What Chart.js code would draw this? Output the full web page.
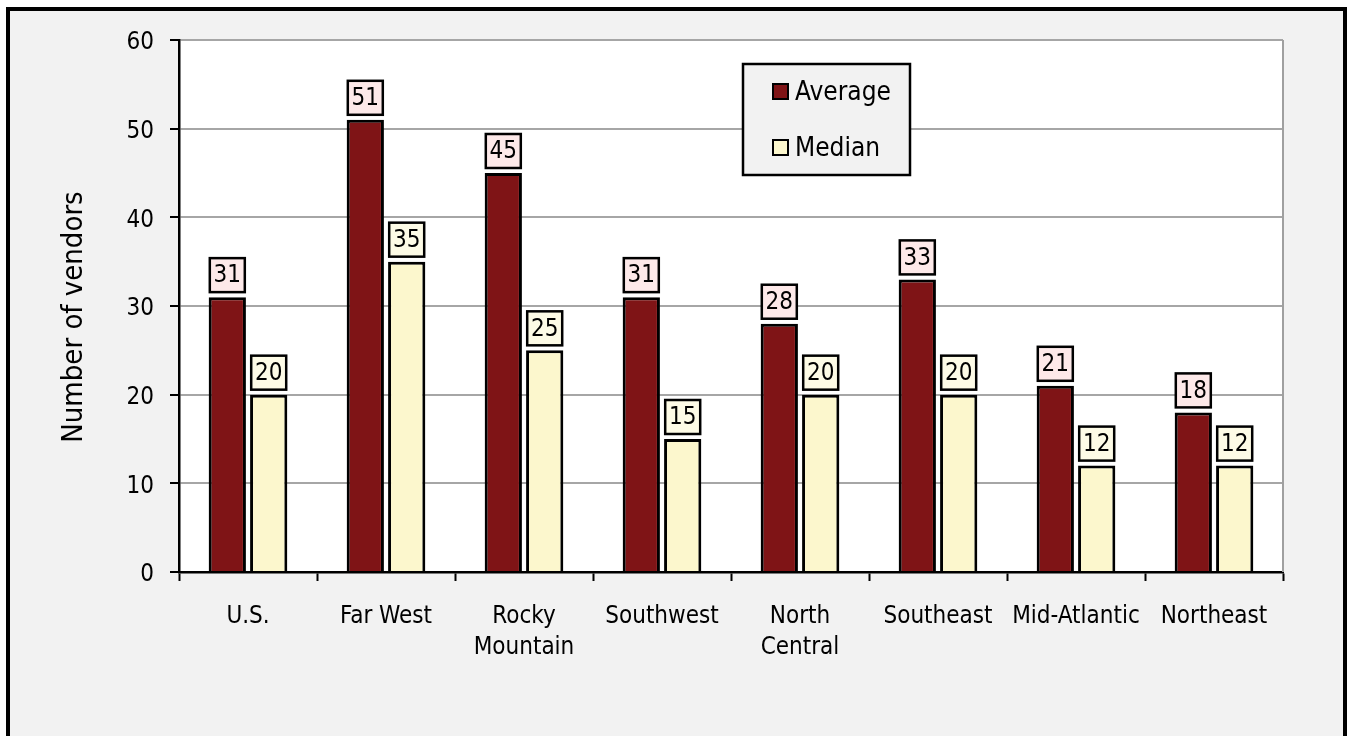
<!DOCTYPE html>
<html>
<head>
<meta charset="utf-8">
<script src="https://cdn.jsdelivr.net/npm/chart.js@4"></script>
<style>
  html, body { margin: 0; padding: 0; background: #ffffff; }
  #frame {
    position: absolute; left: 6px; top: 7px; width: 1333px; height: 760px;
    border: 4px solid #000; background: #f2f2f2;
  }
  #wrap { position: absolute; left: 0; top: 0; width: 1347px; height: 736px; }
</style>
</head>
<body>
<div id="frame"></div>
<div id="wrap"><canvas id="chart"></canvas></div>
<script>
const FONT = '"Liberation Sans Narrow", "Arial Narrow", "DejaVu Sans Condensed", sans-serif';

const regions = ['U.S.', 'Far West', ['Rocky', 'Mountain'], 'Southwest', ['North', 'Central'], 'Southeast', 'Mid-Atlantic', 'Northeast'];
const averageVendors = [31, 51, 45, 31, 28, 33, 21, 18];
const medianVendors = [20, 35, 25, 15, 20, 20, 12, 12];
const yTicks = [0, 10, 20, 30, 40, 50, 60];
const yTitle = 'Number of vendors';

// fills plot area white, draws right edge line and the y title
const plotBg = {
    id: 'plotBg',
    beforeDraw(chart) {
        const { ctx, chartArea: a } = chart;
        ctx.save();
        ctx.fillStyle = '#ffffff';
        ctx.fillRect(a.left, a.top, a.right - a.left, a.bottom - a.top);
        ctx.restore();
    },
    afterDraw(chart) {
        const { ctx, chartArea: a } = chart;
        ctx.save();
        ctx.strokeStyle = '#a0a0a0';
        ctx.lineWidth = 2;
        ctx.beginPath();
        ctx.moveTo(a.right, a.top);
        ctx.lineTo(a.right, a.bottom);
        ctx.stroke();

        ctx.translate(74, (a.top + a.bottom) / 2 + 11);
        ctx.rotate(-Math.PI / 2);
        ctx.fillStyle = '#000';
        ctx.font = '29px ' + FONT;
        ctx.textAlign = 'center';
        ctx.textBaseline = 'middle';
        ctx.fillText(yTitle, 0, 0);
        ctx.restore();
    }
};

// value boxes above each bar
const valueBoxes = {
    id: 'valueBoxes',
    afterDatasetsDraw(chart) {
        const ctx = chart.ctx;
        const fills = ['#fde9e9', '#fdfbe6'];
        chart.data.datasets.forEach((ds, di) => {
            const meta = chart.getDatasetMeta(di);
            meta.data.forEach((bar, i) => {
                const w = 35, h = 34;
                const x = bar.x - w / 2;
                const y = bar.y - 5 - h;
                ctx.save();
                ctx.fillStyle = fills[di];
                ctx.strokeStyle = '#000';
                ctx.lineWidth = 2.5;
                ctx.fillRect(x, y, w, h);
                ctx.strokeRect(x, y, w, h);
                ctx.fillStyle = '#000';
                ctx.font = '24px ' + FONT;
                ctx.textAlign = 'center';
                ctx.textBaseline = 'middle';
                ctx.fillText(String(ds.data[i]), bar.x, y + h / 2 + 1);
                ctx.restore();
            });
        });
    }
};

// legend box inside plot area
const boxLegend = {
    id: 'boxLegend',
    afterDraw(chart) {
        const { ctx, chartArea: a } = chart;
        const x = a.left + 564, y = a.top + 24, w = 167, h = 111;
        ctx.save();
        ctx.fillStyle = '#f2f2f2';
        ctx.strokeStyle = '#000';
        ctx.lineWidth = 2.5;
        ctx.fillRect(x, y, w, h);
        ctx.strokeRect(x, y, w, h);
        chart.data.datasets.forEach((ds, i) => {
            const cy = y + 28 + i * 56;
            ctx.fillStyle = ds.backgroundColor;
            ctx.fillRect(x + 30, cy - 8, 15, 15);
            ctx.lineWidth = 2;
            ctx.strokeRect(x + 30, cy - 8, 15, 15);
            ctx.fillStyle = '#000';
            ctx.font = '26px ' + FONT;
            ctx.textAlign = 'left';
            ctx.textBaseline = 'middle';
            ctx.fillText(ds.label, x + 52, cy + 1);
        });
        ctx.restore();
    }
};

new Chart(document.getElementById('chart'), {
    type: 'bar',
    data: {
        labels: regions,
        datasets: [
            {
                label: 'Average',
                data: averageVendors,
                backgroundColor: '#7f1416',
                borderColor: '#000',
                borderWidth: 3,
                categoryPercentage: 0.6,
                barPercentage: 0.9
            },
            {
                label: 'Median',
                data: medianVendors,
                backgroundColor: '#fcf7cd',
                borderColor: '#000',
                borderWidth: 3,
                categoryPercentage: 0.6,
                barPercentage: 0.9
            }
        ]
    },
    options: {
        responsive: true,
        maintainAspectRatio: false,
        animation: false,
        layout: { padding: { left: 50, top: 40, right: 64, bottom: 0 } },
        plugins: {
            legend: { display: false },
            tooltip: { enabled: false }
        },
        scales: {
            x: {
                grid: {
                    drawOnChartArea: false,
                    drawTicks: true,
                    tickLength: 9,
                    tickColor: '#000',
                    tickWidth: 2
                },
                border: { color: '#000', width: 2.5 },
                ticks: {
                    color: '#000',
                    font: { family: FONT, size: 24, lineHeight: 1.3 },
                    padding: 20,
                    maxRotation: 0,
                    autoSkip: false
                },
                afterFit(s) { s.height = 736 - 572; }
            },
            y: {
                min: 0,
                max: 60,
                afterBuildTicks(s) { s.ticks = yTicks.map(v => ({ value: v })); },
                grid: {
                    color: '#a6a6a6',
                    lineWidth: 2,
                    tickLength: 9,
                    tickColor: '#000',
                    tickWidth: 2
                },
                border: { color: '#000', width: 2.5 },
                ticks: {
                    color: '#000',
                    font: { family: FONT, size: 24 },
                    padding: 16,
                    labelOffset: 3
                },
                afterFit(s) { s.width = 179 - 50; }
            }
        }
    },
    plugins: [plotBg, valueBoxes, boxLegend]
});
</script>
</body>
</html>
